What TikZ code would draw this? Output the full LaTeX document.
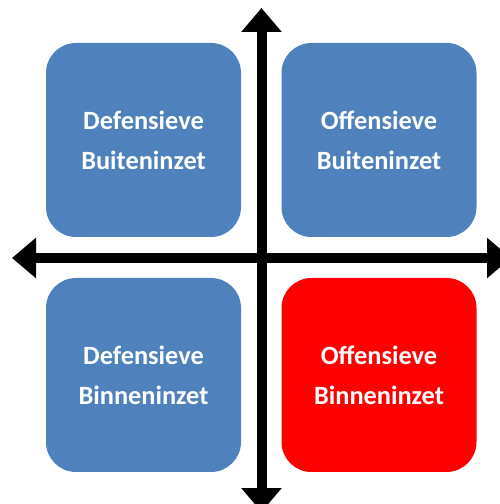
\documentclass[tikz,border=0pt]{standalone}
\usepackage{fontspec}
\setmainfont{Carlito}
\usetikzlibrary{arrows.meta}

\definecolor{kwblauw}{HTML}{4F81BD}
\definecolor{kwrood}{HTML}{FF0000}

\begin{document}
\begin{tikzpicture}[
    kwadrant/.style = {rectangle, rounded corners=0.6cm, minimum width=3.9cm,
        minimum height=3.88cm, inner sep=0pt, fill=kwblauw, text=white, align=center,
        font=\bfseries\fontsize{15}{22.7}\selectfont},
    as/.style = {line width=0.2cm, {Triangle[length=0.48cm, width=0.78cm]}-{Triangle[length=0.48cm, width=0.78cm]}}
]

\clip (0, 0) rectangle (10, 10.08);

\coordinate (boven) at (5.23, 9.92);
\coordinate (onder) at (5.23, -0.16);
\coordinate (links) at (0.24, 4.92);
\coordinate (rechts) at (10.22, 4.92);

\node[kwadrant] (defbuiten) at (2.87, 7.28) {Defensieve\\Buiteninzet};
\node[kwadrant] (offbuiten) at (7.58, 7.28) {Offensieve\\Buiteninzet};
\node[kwadrant] (defbinnen) at (2.87, 2.58) {Defensieve\\Binneninzet};
\node[kwadrant, fill=kwrood] (offbinnen) at (7.58, 2.58) {Offensieve\\Binneninzet};

\draw[as] (links) -- (rechts);
\draw[as] (onder) -- (boven);

\end{tikzpicture}
\end{document}
